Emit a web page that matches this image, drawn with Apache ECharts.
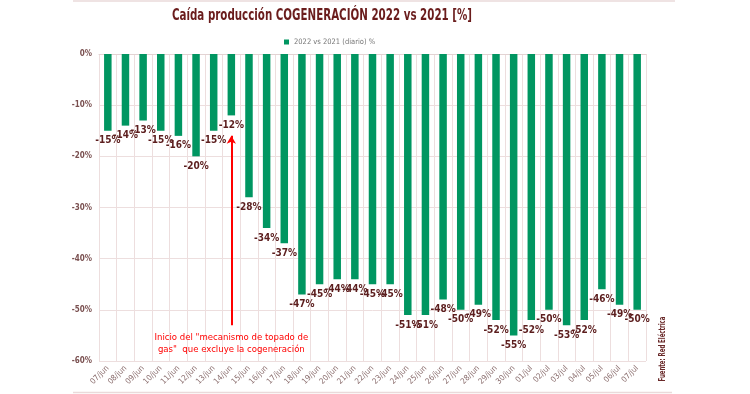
<!DOCTYPE html>
<html><head><meta charset="utf-8">
<script src="https://cdn.jsdelivr.net/npm/echarts@6/dist/echarts.min.js"></script>
<style>html,body{margin:0;padding:0;background:#fff}#c{width:750px;height:394px}</style>
</head><body><div id="c"></div>
<script>
const categories = ['07/jun','08/jun','09/jun','10/jun','11/jun','12/jun','13/jun','14/jun','15/jun','16/jun','17/jun','18/jun','19/jun','20/jun','21/jun','22/jun','23/jun','24/jun','25/jun','26/jun','27/jun','28/jun','29/jun','30/jun','01/jul','02/jul','03/jul','04/jul','05/jul','06/jul','07/jul'];
const values = [-15,-14,-13,-15,-16,-20,-15,-12,-28,-34,-37,-47,-45,-44,-44,-45,-45,-51,-51,-48,-50,-49,-52,-55,-52,-50,-53,-52,-46,-49,-50];
const yTicks = [0,-10,-20,-30,-40,-50,-60];
const seriesName = '2022 vs 2021 (diario) %';
const titleText = 'Caída producción COGENERACIÓN 2022 vs 2021 [%]';
const sourceText = 'Fuente: Red Eléctrica';
const arrowFrom = -16, arrowTo = -53, arrowCat = '14/jun';
const noteText = 'Inicio del "mecanismo de topado de\ngas"  que excluye la cogeneración';

const FN = '"Liberation Sans Narrow","DejaVu Sans Condensed","Roboto",sans-serif';
const chart = echarts.init(document.getElementById('c'), null, {renderer:'canvas'});
chart.setOption({
  animation:false,
  legend:{data:[seriesName], top:33, left:279, itemWidth:5, itemHeight:5, itemGap:3,
    icon:'rect', textStyle:{fontFamily:FN, fontSize:7.5, color:'#777'}},
  grid:{left:99, right:104, top:54, bottom:33, containLabel:false},
  xAxis:{type:'category', data:categories, boundaryGap:true,
    axisLine:{show:true, lineStyle:{color:'#e3d3d3'}},
    axisTick:{show:false},
    splitLine:{show:true, lineStyle:{color:'#eddede', width:1}},
    axisLabel:{rotate:45, interval:0, fontFamily:FN, fontSize:8, color:'#8a6d6d', margin:6}},
  yAxis:{type:'value', min:-60, max:0, interval:10,
    axisLine:{show:false}, axisTick:{show:false},
    splitLine:{lineStyle:{color:'#eddede'}},
    axisLabel:{formatter:'{value}%', fontFamily:FN, fontSize:8, fontWeight:'bold', color:'#7a5050', margin:7}},
  series:[{
    name:seriesName, type:'bar', data:values, barWidth:7.5,
    itemStyle:{color:'#009661'},
    label:{show:true, position:'bottom', distance:5, formatter:'{c}%', fontFamily:FN, fontSize:10, fontWeight:'bold', color:'#5c1e1e'},
    markLine:{silent:true, symbol:['arrow','none'], symbolSize:[7,8],
      lineStyle:{color:'#ff0000', width:2, type:'solid'}, label:{show:false},
      data:[[{coord:[arrowCat, arrowFrom]},{coord:[arrowCat, arrowTo]}]]},
    markPoint:{silent:true, symbol:'rect', symbolSize:0,
      label:{show:true, formatter:noteText, fontFamily:FN, fontSize:9.5, color:'#ff0000', lineHeight:12, align:'center'},
      data:[{coord:[arrowCat, -56.6]}]}
  }],
  graphic:[
    {type:'line', shape:{x1:73,y1:1,x2:675,y2:1}, style:{stroke:'#eadada', lineWidth:1.5}},
    {type:'line', shape:{x1:73,y1:392.5,x2:672,y2:392.5}, style:{stroke:'#eadada', lineWidth:1.5}},
    {type:'text', x:322, y:16, scaleX:0.715,
      style:{text:titleText, fontFamily:FN, fontSize:16, fontWeight:'bold', fill:'#6a1c1c', textAlign:'center', textVerticalAlign:'middle'}},
    {type:'text', x:663, y:349, rotation:Math.PI/2, scaleX:0.75,
      style:{text:sourceText, fontFamily:FN, fontSize:8, fontWeight:'bold', fill:'#6a2a2a', textAlign:'center', textVerticalAlign:'middle'}}
  ]
});
</script></body></html>
